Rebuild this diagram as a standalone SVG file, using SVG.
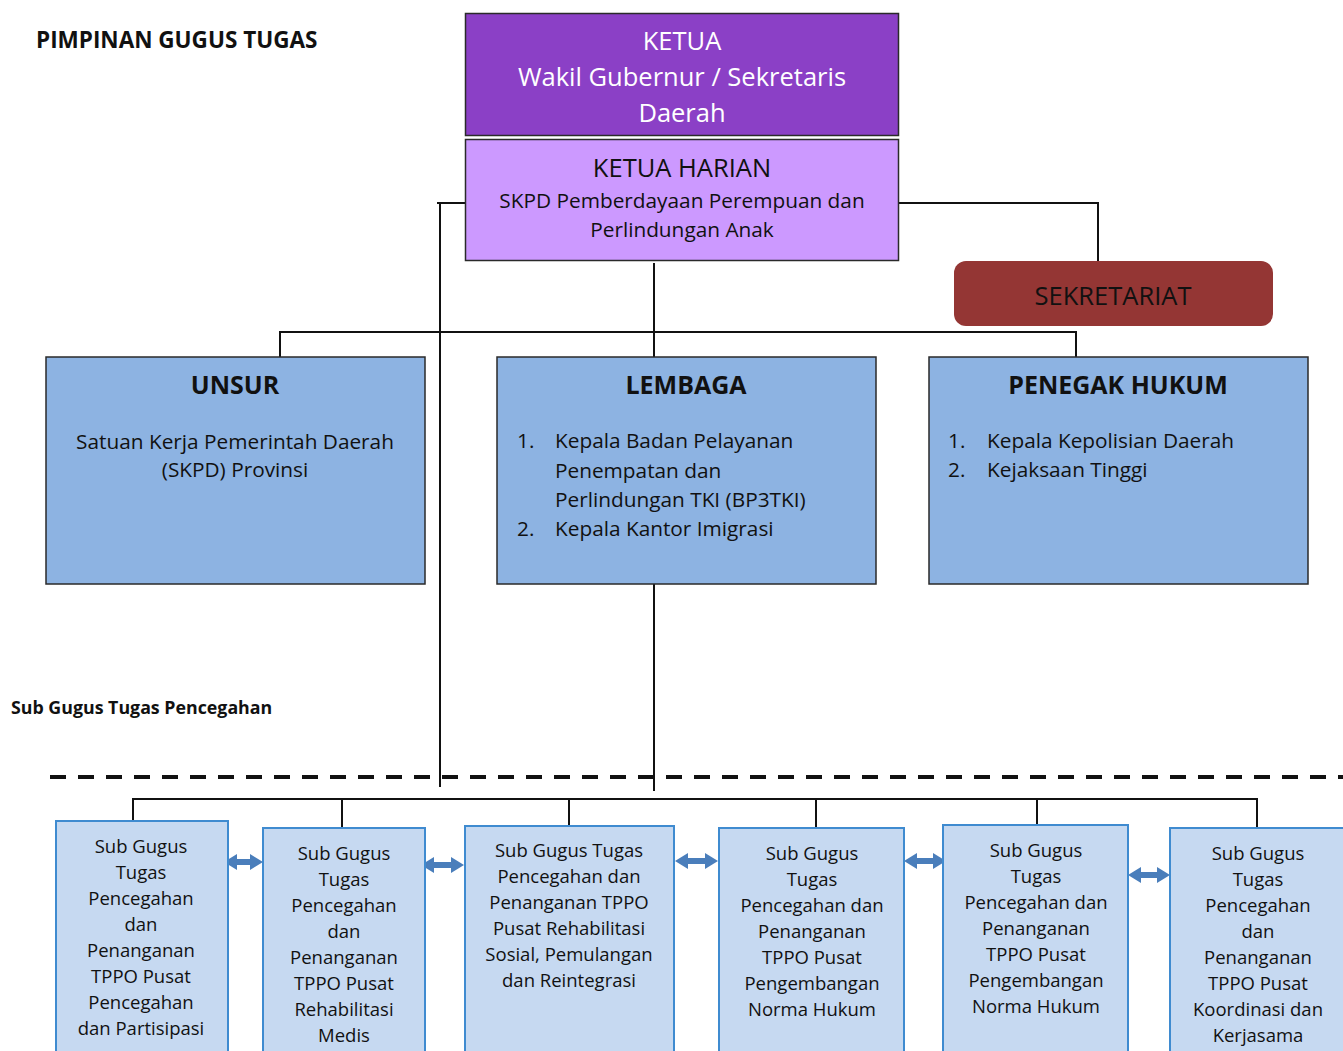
<svg xmlns="http://www.w3.org/2000/svg" width="1343" height="1051" viewBox="0 0 1343 1051">
  <style>
    text { font-family: "Open Sans", "Liberation Sans", sans-serif; fill: #111; }
    .c { text-anchor: middle; }
    .title { font-weight: bold; font-size: 22.5px; }
    .head { font-size: 25.5px; }
    .headb { font-size: 25px; font-weight: bold; }
    .body { font-size: 20.8px; }
    .sub { font-size: 18.5px; }
    .white { fill: #ffffff; }
    .top1 { fill: #8B40C6; stroke: #2a2a2a; stroke-width: 1.5; }
    .top2 { fill: #CC99FF; stroke: #2a2a2a; stroke-width: 1.5; }
    .sek { fill: #943634; }
    .grp { fill: #8DB3E2; stroke: #2a2a2a; stroke-width: 1.5; }
    .sbox { fill: #C6D9F1; stroke: #3F8BD0; stroke-width: 2; }
    .ln { fill: none; stroke: #111; stroke-width: 2; }
    .dash { fill: none; stroke: #111; stroke-width: 4; stroke-dasharray: 16 12; }
    .dbl { fill: #4A7EBB; }
  </style>

  <!-- headings -->
  <text class="title" x="36" y="48">PIMPINAN GUGUS TUGAS</text>
  <text class="title" x="11" y="714" style="font-size:17.8px">Sub Gugus Tugas Pencegahan</text>

  <!-- connectors -->
  <g id="connectors">
    <path class="ln" d="M465 203 H437"/>
    <path class="ln" d="M440 203 V787"/>
    <path class="ln" d="M899 203 H1098 V261"/>
    <path class="ln" d="M654 263 V357"/>
    <path class="ln" d="M280 357 V332 H1076 V357"/>
    <path class="ln" d="M654 582 V791"/>
    <path class="dash" d="M50 777 H1343"/>
    <path class="ln" d="M133 821 V799 H1257 V828"/>
    <path class="ln" d="M342 799 V828"/>
    <path class="ln" d="M569 799 V826"/>
    <path class="ln" d="M816 799 V828"/>
    <path class="ln" d="M1037 799 V825"/>
    <!-- two-way links between sub task forces -->
    <path class="dbl" d="M224 862 l13 -8 v5 h13 v-5 l13 8 l-13 8 v-5 h-13 v5 z"/>
    <path class="dbl" d="M421 865 l13 -8 v5 h17 v-5 l13 8 l-13 8 v-5 h-17 v5 z"/>
    <path class="dbl" d="M675 861 l13 -8 v5 h17 v-5 l13 8 l-13 8 v-5 h-17 v5 z"/>
    <path class="dbl" d="M904 861 l13 -8 v5 h16 v-5 l13 8 l-13 8 v-5 h-16 v5 z"/>
    <path class="dbl" d="M1128 875 l13 -8 v5 h16 v-5 l13 8 l-13 8 v-5 h-16 v5 z"/>
  </g>

  <g id="ketua">
    <rect class="top1" x="465.5" y="13.5" width="433" height="122"/>
    <text class="head c white" x="682" y="50">KETUA</text>
    <text class="head c white" x="682" y="86">Wakil Gubernur / Sekretaris</text>
    <text class="head c white" x="682" y="122">Daerah</text>
  </g>

  <g id="ketua-harian">
    <rect class="top2" x="465.5" y="139.5" width="433" height="121"/>
    <text class="head c" x="682" y="177">KETUA HARIAN</text>
    <text class="body c" x="682" y="208">SKPD Pemberdayaan Perempuan dan</text>
    <text class="body c" x="682" y="237">Perlindungan Anak</text>
  </g>

  <g id="sekretariat">
    <rect class="sek" x="954" y="261" width="319" height="65" rx="12"/>
    <text class="head c" x="1113" y="305">SEKRETARIAT</text>
  </g>

  <g id="unsur">
    <rect class="grp" x="46" y="357" width="379" height="227"/>
    <text class="headb c" x="235" y="394">UNSUR</text>
    <text class="body c" x="235" y="449">Satuan Kerja Pemerintah Daerah</text>
    <text class="body c" x="235" y="477">(SKPD) Provinsi</text>
  </g>

  <g id="lembaga">
    <rect class="grp" x="497" y="357" width="379" height="227"/>
    <text class="headb c" x="686" y="394">LEMBAGA</text>
    <text class="body" x="517" y="448">1.</text>
    <text class="body" x="555" y="448">Kepala Badan Pelayanan</text>
    <text class="body" x="555" y="478">Penempatan dan</text>
    <text class="body" x="555" y="507">Perlindungan TKI (BP3TKI)</text>
    <text class="body" x="517" y="536">2.</text>
    <text class="body" x="555" y="536">Kepala Kantor Imigrasi</text>
  </g>

  <g id="penegak-hukum">
    <rect class="grp" x="929" y="357" width="379" height="227"/>
    <text class="headb c" x="1118" y="394">PENEGAK HUKUM</text>
    <text class="body" x="948" y="448">1.</text>
    <text class="body" x="987" y="448">Kepala Kepolisian Daerah</text>
    <text class="body" x="948" y="477">2.</text>
    <text class="body" x="987" y="477">Kejaksaan Tinggi</text>
  </g>

  <g id="sub-partisipasi">
    <rect class="sbox" x="56" y="821" width="172" height="240"/>
    <text class="sub c" x="141" y="853">Sub Gugus</text>
    <text class="sub c" x="141" y="879">Tugas</text>
    <text class="sub c" x="141" y="905">Pencegahan</text>
    <text class="sub c" x="141" y="931">dan</text>
    <text class="sub c" x="141" y="957">Penanganan</text>
    <text class="sub c" x="141" y="983">TPPO Pusat</text>
    <text class="sub c" x="141" y="1009">Pencegahan</text>
    <text class="sub c" x="141" y="1035">dan Partisipasi</text>
  </g>

  <g id="sub-medis">
    <rect class="sbox" x="263" y="828" width="162" height="240"/>
    <text class="sub c" x="344" y="860">Sub Gugus</text>
    <text class="sub c" x="344" y="886">Tugas</text>
    <text class="sub c" x="344" y="912">Pencegahan</text>
    <text class="sub c" x="344" y="938">dan</text>
    <text class="sub c" x="344" y="964">Penanganan</text>
    <text class="sub c" x="344" y="990">TPPO Pusat</text>
    <text class="sub c" x="344" y="1016">Rehabilitasi</text>
    <text class="sub c" x="344" y="1042">Medis</text>
  </g>

  <g id="sub-sosial">
    <rect class="sbox" x="465" y="826" width="209" height="240"/>
    <text class="sub c" x="569" y="857">Sub Gugus Tugas</text>
    <text class="sub c" x="569" y="883">Pencegahan dan</text>
    <text class="sub c" x="569" y="909">Penanganan TPPO</text>
    <text class="sub c" x="569" y="935">Pusat Rehabilitasi</text>
    <text class="sub c" x="569" y="961">Sosial, Pemulangan</text>
    <text class="sub c" x="569" y="987">dan Reintegrasi</text>
  </g>

  <g id="sub-norma-1">
    <rect class="sbox" x="719" y="828" width="185" height="240"/>
    <text class="sub c" x="812" y="860">Sub Gugus</text>
    <text class="sub c" x="812" y="886">Tugas</text>
    <text class="sub c" x="812" y="912">Pencegahan dan</text>
    <text class="sub c" x="812" y="938">Penanganan</text>
    <text class="sub c" x="812" y="964">TPPO Pusat</text>
    <text class="sub c" x="812" y="990">Pengembangan</text>
    <text class="sub c" x="812" y="1016">Norma Hukum</text>
  </g>

  <g id="sub-norma-2">
    <rect class="sbox" x="943" y="825" width="185" height="240"/>
    <text class="sub c" x="1036" y="857">Sub Gugus</text>
    <text class="sub c" x="1036" y="883">Tugas</text>
    <text class="sub c" x="1036" y="909">Pencegahan dan</text>
    <text class="sub c" x="1036" y="935">Penanganan</text>
    <text class="sub c" x="1036" y="961">TPPO Pusat</text>
    <text class="sub c" x="1036" y="987">Pengembangan</text>
    <text class="sub c" x="1036" y="1013">Norma Hukum</text>
  </g>

  <g id="sub-koordinasi">
    <rect class="sbox" x="1170" y="828" width="185" height="240"/>
    <text class="sub c" x="1258" y="860">Sub Gugus</text>
    <text class="sub c" x="1258" y="886">Tugas</text>
    <text class="sub c" x="1258" y="912">Pencegahan</text>
    <text class="sub c" x="1258" y="938">dan</text>
    <text class="sub c" x="1258" y="964">Penanganan</text>
    <text class="sub c" x="1258" y="990">TPPO Pusat</text>
    <text class="sub c" x="1258" y="1016">Koordinasi dan</text>
    <text class="sub c" x="1258" y="1042">Kerjasama</text>
  </g>
</svg>
